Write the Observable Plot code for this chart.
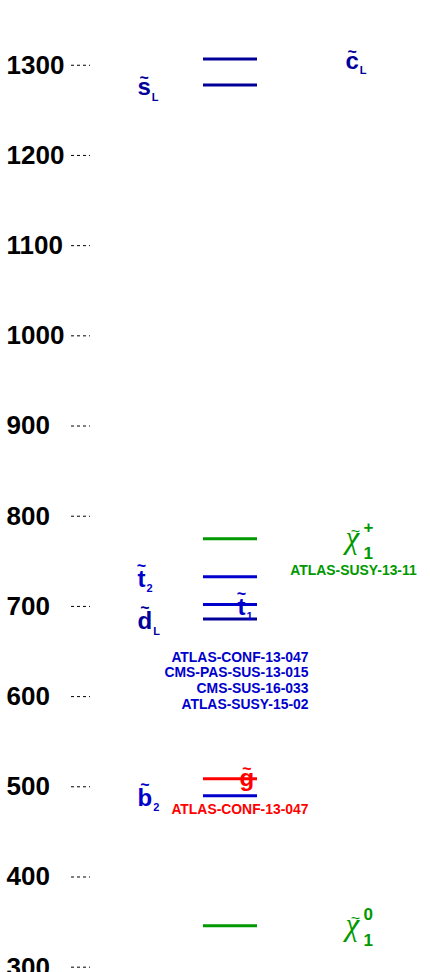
<!DOCTYPE html>
<html><head><meta charset="utf-8">
<script src="https://cdn.jsdelivr.net/npm/d3@7"></script>
<script src="https://cdn.jsdelivr.net/npm/@observablehq/plot@0.6"></script>
<style>html,body{margin:0;padding:0;background:#fff;} #chart svg{display:block;}</style>
</head><body><div id="chart"></div>
<script>
// ---- data ----
const names      = ["sL", "cL", "chi1p", "t2", "t1", "dL", "gluino", "b2", "chi10"];
const masses     = [1278, 1307, 775, 733, 702, 686, 509, 490, 346];
const groups     = ["sq12", "sq12", "ewk", "sq3", "sq3", "sq12", "glu", "sq3", "ewk"];
const symbols    = ["s", "c", "χ", "t", "t", "d", "g", "b", "χ"];
const subs       = ["L", "L", "1", "2", "1", "L", "", "2", "1"];
const sups       = ["", "", "+", "", "", "", "", "", "0"];
const placements = ["left", "right", "right", "left", "inline", "left", "inline", "left", "right"];

const refTexts   = ["ATLAS-CONF-13-047\nCMS-PAS-SUS-13-015\nCMS-SUS-16-033\nATLAS-SUSY-15-02", "ATLAS-SUSY-13-11", "ATLAS-CONF-13-047"];
const refAnchors = ["dL", "chi1p", "gluino"];
const refGroups  = ["sq3", "ewk", "glu"];

const yTicks = [300, 400, 500, 600, 700, 800, 900, 1000, 1100, 1200, 1300];

// ---- styling / layout ----
const groupDomain = ["sq12", "sq3", "glu", "ewk"];
const groupColors = ["#000099", "#0000CC", "#FF0000", "#009900"];
const column = {left: 137, inline: 237, right: 345};
const lineX = [203, 257];
const advance = {s: 0.556, c: 0.556, t: 0.333, d: 0.611, b: 0.611, g: 0.611};
const tall = new Set(["t", "d", "b"]);
const LETTER = 24, SUB = 11, TILDE = 16;

const rows = names.map((n, i) => ({name: n, mass: masses[i], group: groups[i], symbol: symbols[i], sub: subs[i], sup: sups[i], place: placements[i]}));
const massOf = Object.fromEntries(rows.map(r => [r.name, r.mass]));
const refs = refTexts.map((t, i) => ({text: t, mass: massOf[refAnchors[i]], group: refGroups[i]}));

const latin = rows.filter(r => r.symbol !== "χ");
const greek = rows.filter(r => r.symbol === "χ");
const letterDy = r => r.symbol === "g" ? 7.5 : 10;
const letterX = r => column[r.place] + (r.symbol === "g" ? 2 : 0);

const common = {y: "mass", fill: "group", lineAnchor: "bottom"};

const chart = Plot.plot({
  width: 430, height: 972,
  marginLeft: 90, marginRight: 0, marginTop: 0, marginBottom: 0,
  style: {fontFamily: "'Liberation Sans', Arial, sans-serif", background: "white"},
  x: {domain: [90, 430], axis: null},
  y: {domain: [294.1, 1371.8], axis: null},
  color: {type: "ordinal", domain: groupDomain, range: groupColors},
  marks: [
    Plot.ruleY(yTicks, {x1: 71, x2: 90, stroke: "black", strokeWidth: 1, strokeDasharray: "3,3"}),
    Plot.axisY(yTicks, {anchor: "left", tickSize: 0, tickPadding: 84, textAnchor: "start", fontSize: 26, fontWeight: "bold", fill: "black", label: null, tickFormat: d => String(d)}),
    Plot.ruleY(rows, {y: "mass", x1: lineX[0], x2: lineX[1], stroke: "group", strokeWidth: 3}),
    // latin sparticle letters
    ...latin.map(r => Plot.text([r], {...common, x: letterX, text: "symbol", textAnchor: "start", dy: letterDy(r), fontSize: LETTER, fontWeight: "bold"})),
    // tildes
    ...latin.map(r => Plot.text([r], {...common, x: d => letterX(d) + advance[d.symbol] * LETTER / 2, text: () => "~", textAnchor: "middle", dy: letterDy(r) - (tall.has(r.symbol) ? 15.6 : 12.1), fontSize: TILDE, fontWeight: "bold"})),
    // subscripts
    Plot.text(latin.filter(r => r.sub), {...common, x: r => column[r.place] + advance[r.symbol] * LETTER + 1, text: "sub", textAnchor: "start", dy: 15.5, fontSize: SUB, fontWeight: "bold"}),
    // neutralino / chargino
    Plot.text(greek, {...common, x: r => column[r.place], text: () => "χ", textAnchor: "start", dy: 9, fontSize: 31, fontStyle: "italic", fontFamily: "'Liberation Serif', 'DejaVu Serif', serif"}),
    Plot.text(greek, {...common, x: r => column[r.place] + 10, text: () => "~", textAnchor: "middle", dy: -2, fontSize: TILDE}),
    Plot.text(greek, {...common, x: r => column[r.place] + 18, text: "sub", textAnchor: "start", dy: 20, fontSize: 17, fontWeight: "bold"}),
    Plot.text(greek, {...common, x: r => column[r.place] + 18, text: "sup", textAnchor: "start", dy: -6, fontSize: 17, fontWeight: "bold"}),
    // references
    Plot.text([refs[0]], {...common, x: 308, text: "text", textAnchor: "end", lineAnchor: "top", lineHeight: 1.12, dy: 31.8, fontSize: 13.9, fontWeight: "bold"}),
    Plot.text([refs[1]], {...common, x: 353, text: "text", textAnchor: "middle", dy: 36, fontSize: 13.9, fontWeight: "bold"}),
    Plot.text([refs[2]], {...common, x: 308, text: "text", textAnchor: "end", dy: 35.5, fontSize: 13.9, fontWeight: "bold"})
  ]
});
document.getElementById("chart").appendChild(chart);
</script>
</body></html>
